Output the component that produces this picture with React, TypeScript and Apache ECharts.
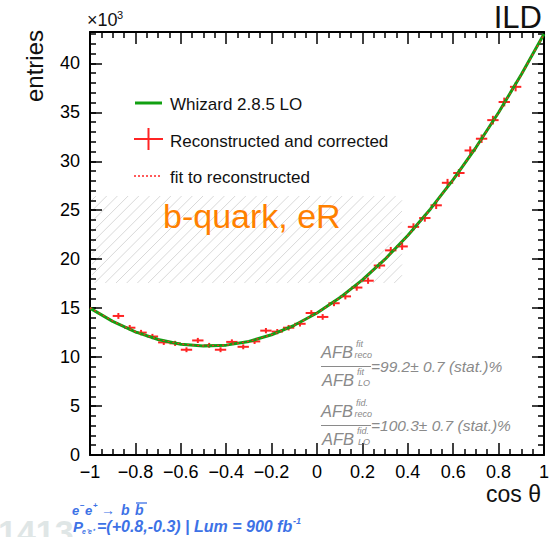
import React, { useEffect, useRef } from "react";
import * as echarts from "echarts";

// ---- data (entries in units of 10^3) ----
const binCenters = [
  -0.875, -0.825, -0.775, -0.725, -0.675, -0.625, -0.575, -0.525, -0.475, -0.425,
  -0.375, -0.325, -0.275, -0.225, -0.175, -0.125, -0.075, -0.025, 0.025, 0.075,
  0.125, 0.175, 0.225, 0.275, 0.325, 0.375, 0.425, 0.475, 0.525, 0.575,
  0.625, 0.675, 0.725, 0.775, 0.825, 0.875,
];
const recoValues = [
  14.2, 13.0, 12.5, 12.1, 11.5, 11.4, 10.75, 11.7, 11.2, 10.75,
  11.55, 11.05, 11.6, 12.7, 12.6, 13.0, 13.4, 14.5, 14.1, 15.5,
  16.2, 17.1, 17.8, 19.35, 20.9, 21.3, 23.3, 24.2, 25.5, 27.8,
  28.8, 31.1, 32.3, 34.2, 36.05, 37.6,
];
const recoErrors = [
  0.3, 0.28, 0.28, 0.27, 0.26, 0.26, 0.25, 0.26, 0.25, 0.25,
  0.26, 0.25, 0.26, 0.27, 0.27, 0.28, 0.28, 0.29, 0.29, 0.3,
  0.31, 0.32, 0.32, 0.33, 0.35, 0.35, 0.36, 0.37, 0.38, 0.4,
  0.4, 0.42, 0.43, 0.44, 0.45, 0.46,
];
const binHalfWidth = 0.025;

const curveX = [
  -1, -0.9, -0.8, -0.7, -0.6, -0.5, -0.4, -0.3, -0.2, -0.1, 0,
  0.1, 0.2, 0.3, 0.4, 0.5, 0.6, 0.7, 0.8, 0.9, 1,
];
const whizardValues = [
  15.0, 13.65, 12.58, 11.8, 11.32, 11.13, 11.22, 11.6, 12.28, 13.25, 14.5,
  16.05, 17.88, 20.0, 22.42, 25.13, 28.12, 31.4, 34.98, 38.85, 43.0,
];
const fitValues = [
  15.05, 13.68, 12.6, 11.82, 11.33, 11.14, 11.23, 11.6, 12.28, 13.25, 14.49,
  16.03, 17.86, 19.98, 22.4, 25.1, 28.1, 31.38, 34.95, 38.82, 42.95,
];

const xMin = -1;
const xMax = 1;
const xInterval = 0.2;
const yMin = 0;
const yMax = 43.2;
const yInterval = 5;
const yMinorInterval = 1;

const legendLabels = ["Whizard 2.8.5 LO", "Reconstructed and corrected", "fit to reconstructed"];

const FONT = '"Liberation Sans", Arial, Helvetica, sans-serif';
const GREEN = "#12a012";
const RED = "#ff2424";
const GRAY = "#8a8a8a";
const BLUE = "#3d72e6";

function hatchLines(x0: number, y0: number, x1: number, y1: number, step: number) {
  const out: any[] = [];
  for (let c = x0 + y0 + 4; c < x1 + y1; c += step) {
    const xa = Math.max(x0, c - y1);
    const xb = Math.min(x1, c - y0);
    if (xa < xb) {
      out.push({
        type: "line",
        shape: { x1: xa, y1: c - xa, x2: xb, y2: c - xb },
        style: { stroke: "#d9d9d9", lineWidth: 1 },
        silent: true,
      });
    }
  }
  return out;
}

function txt(text: string, x: number, y: number, size: number, opts: any = {}) {
  return {
    type: "text",
    x,
    y,
    z: 50,
    silent: true,
    rotation: opts.rotation || 0,
    style: {
      text,
      fill: opts.fill || "#111",
      fontSize: size,
      fontFamily: FONT,
      fontStyle: opts.italic ? "italic" : "normal",
      fontWeight: opts.bold ? "bold" : "normal",
      align: opts.align || "left",
      verticalAlign: opts.va || "middle",
    },
  };
}

function line(x1: number, y1: number, x2: number, y2: number, stroke: string, w: number, dash?: any) {
  return {
    type: "line",
    z: 50,
    silent: true,
    shape: { x1, y1, x2, y2 },
    style: { stroke, lineWidth: w, lineDash: dash },
  };
}

function ratioBlock(y: number, sup: string, value: string) {
  // y = fraction line position
  return [
    txt("AFB", 321, y - 14.5, 16.5, { italic: true, fill: GRAY }),
    txt(sup, 356, y - 22.5, 9, { italic: true, fill: GRAY }),
    txt("reco", 354.5, y - 11.5, 9, { italic: true, fill: GRAY }),
    line(321, y, 371, y, GRAY, 1),
    txt("AFB", 322, y + 13, 16.5, { italic: true, fill: GRAY }),
    txt(sup, 357, y + 5.5, 9, { italic: true, fill: GRAY }),
    txt("LO", 358, y + 16.5, 9, { italic: true, fill: GRAY }),
    txt(value, 371, y, 15.5, { italic: true, fill: GRAY }),
  ];
}

export default function App() {
  const ref = useRef<HTMLDivElement>(null);

  useEffect(() => {
    if (!ref.current) return;
    const chart = echarts.init(ref.current, undefined, { renderer: "svg" });

    const tickLine = { color: "#000", width: 1.5 };
    const axisLine = { show: true, onZero: false, lineStyle: { color: "#000", width: 2 } };
    const noLine = { show: false, onZero: false };

    const xLabel = (v: number) => {
      const r = Math.round(v * 10) / 10;
      if (Math.abs(r - v) > 1e-6) return "";
      return r === 0 ? "0" : String(r).replace("-", "\u2212");
    };
    const yLabel = (v: number) => (Math.abs(v % yInterval) < 1e-6 ? String(v) : "");

    const crossData = binCenters.map((x, i) => [x, recoValues[i], recoErrors[i]]);

    const option: any = {
      animation: false,
      backgroundColor: "#fff",
      grid: { left: 90, right: 7, top: 32, bottom: 82, containLabel: false },
      xAxis: [
        {
          type: "value",
          position: "bottom",
          min: xMin,
          max: xMax,
          interval: xInterval,
          axisLine,
          axisTick: { show: true, inside: true, length: 12, lineStyle: tickLine },
          minorTick: { show: true, splitNumber: 4, length: 6, lineStyle: tickLine },
          splitLine: { show: false },
          axisLabel: {
            interval: 0,
            formatter: xLabel,
            fontSize: 18,
            fontFamily: FONT,
            color: "#000",
            margin: 8,
          },
        },
        {
          type: "value",
          position: "top",
          min: xMin,
          max: xMax,
          interval: xInterval,
          axisLine,
          axisTick: { show: true, inside: true, length: 12, lineStyle: tickLine },
          minorTick: { show: true, splitNumber: 4, length: 6, lineStyle: tickLine },
          splitLine: { show: false },
          axisLabel: { show: false },
        },
      ],
      yAxis: [
        {
          type: "value",
          position: "left",
          min: yMin,
          max: yMax,
          interval: yInterval,
          axisLine,
          axisTick: { show: true, inside: true, length: 12, lineStyle: tickLine },
          splitLine: { show: false },
          axisLabel: {
            formatter: yLabel,
            showMaxLabel: false,
            fontSize: 18,
            fontFamily: FONT,
            color: "#000",
            margin: 10,
          },
        },
        {
          type: "value",
          position: "left",
          min: yMin,
          max: yMax,
          interval: yMinorInterval,
          axisLine: noLine,
          axisTick: { show: true, inside: true, length: 6, lineStyle: tickLine },
          splitLine: { show: false },
          axisLabel: { show: false },
        },
        {
          type: "value",
          position: "right",
          min: yMin,
          max: yMax,
          interval: yInterval,
          axisLine,
          axisTick: { show: true, inside: true, length: 12, lineStyle: tickLine },
          splitLine: { show: false },
          axisLabel: { show: false },
        },
        {
          type: "value",
          position: "right",
          min: yMin,
          max: yMax,
          interval: yMinorInterval,
          axisLine: noLine,
          axisTick: { show: true, inside: true, length: 6, lineStyle: tickLine },
          splitLine: { show: false },
          axisLabel: { show: false },
        },
      ],
      series: [
        {
          name: legendLabels[1],
          type: "custom",
          xAxisIndex: 0,
          yAxisIndex: 0,
          z: 3,
          encode: { x: 0, y: 1 },
          data: crossData,
          renderItem: (_p: any, api: any) => {
            const x = api.value(0);
            const y = api.value(1);
            const e = api.value(2);
            const l = api.coord([x - binHalfWidth, y]);
            const r = api.coord([x + binHalfWidth, y]);
            const t = api.coord([x, y + e]);
            const b = api.coord([x, y - e]);
            return {
              type: "group",
              children: [
                { type: "line", shape: { x1: l[0], y1: l[1], x2: r[0], y2: r[1] }, style: { stroke: RED, lineWidth: 2 } },
                { type: "line", shape: { x1: t[0], y1: t[1], x2: b[0], y2: b[1] }, style: { stroke: RED, lineWidth: 2 } },
              ],
            };
          },
        },
        {
          name: legendLabels[0],
          type: "line",
          xAxisIndex: 0,
          yAxisIndex: 0,
          z: 4,
          data: curveX.map((x, i) => [x, whizardValues[i]]),
          showSymbol: false,
          smooth: false,
          clip: true,
          lineStyle: { color: GREEN, width: 3 },
        },
        {
          name: legendLabels[2],
          type: "line",
          xAxisIndex: 0,
          yAxisIndex: 0,
          z: 5,
          data: curveX.map((x, i) => [x, fitValues[i]]),
          showSymbol: false,
          smooth: false,
          clip: true,
          lineStyle: { color: RED, width: 1.2, type: [2, 3] },
        },
      ],
      graphic: [
        { type: "group", z: 1, silent: true, children: hatchLines(92, 196, 402, 283, 10.7) },
        // legend
        line(135, 103, 162, 103, GREEN, 3),
        txt(legendLabels[0], 170, 104, 17),
        line(134, 139, 163, 139, RED, 2),
        line(148.5, 128, 148.5, 150, RED, 2),
        txt(legendLabels[1], 170, 141, 17),
        line(134, 176, 161, 176, RED, 1.5, [2, 2]),
        txt(legendLabels[2], 170, 177.5, 17),
        // tag
        txt("b-quark, eR", 163, 216, 34, { fill: "#ff8000" }),
        // ratios
        ...ratioBlock(366.5, "fit", "=99.2\u00b1 0.7 (stat.)%"),
        ...ratioBlock(425.5, "fid.", "=100.3\u00b1 0.7 (stat.)%"),
        // axis titles
        txt("entries", 34, 30, 24, { rotation: Math.PI / 2, align: "right" }),
        txt("cos \u03b8", 541, 494, 23, { align: "right" }),
        txt("\u00d710", 87, 20, 18),
        txt("3", 117, 15, 11),
        txt("ILD", 542, 17, 31, { align: "right" }),
        // watermark
        txt("1413", -2, 532, 34, { bold: true, fill: "#dfe6e6" }),
        // process label
        txt("e", 72, 510, 13, { bold: true, italic: true, fill: BLUE }),
        txt("\u2212", 80, 505, 8, { bold: true, fill: BLUE }),
        txt("e", 85, 510, 13, { bold: true, italic: true, fill: BLUE }),
        txt("+", 93, 505, 8, { bold: true, fill: BLUE }),
        txt("\u2192", 101, 510, 14, { fill: BLUE }),
        txt("b", 121, 510, 14, { bold: true, italic: true, fill: BLUE }),
        txt("b", 135, 510, 14, { bold: true, italic: true, fill: BLUE }),
        line(136, 503, 147, 503, BLUE, 1.3),
        txt("P", 73, 526, 15, { bold: true, italic: true, fill: BLUE }),
        txt("e\u207be\u207a", 82, 531, 7, { bold: true, italic: true, fill: BLUE }),
        txt("=(+0.8,-0.3) | Lum = 900 fb", 97, 526, 16, { bold: true, italic: true, fill: BLUE }),
        txt("-1", 293, 521, 9, { bold: true, italic: true, fill: BLUE }),
      ],
    };

    chart.setOption(option);
    return () => chart.dispose();
  }, []);

  return (
    <div
      ref={ref}
      style={{ position: "fixed", left: 0, top: 0, width: 552, height: 537, background: "#fff" }}
    />
  );
}
